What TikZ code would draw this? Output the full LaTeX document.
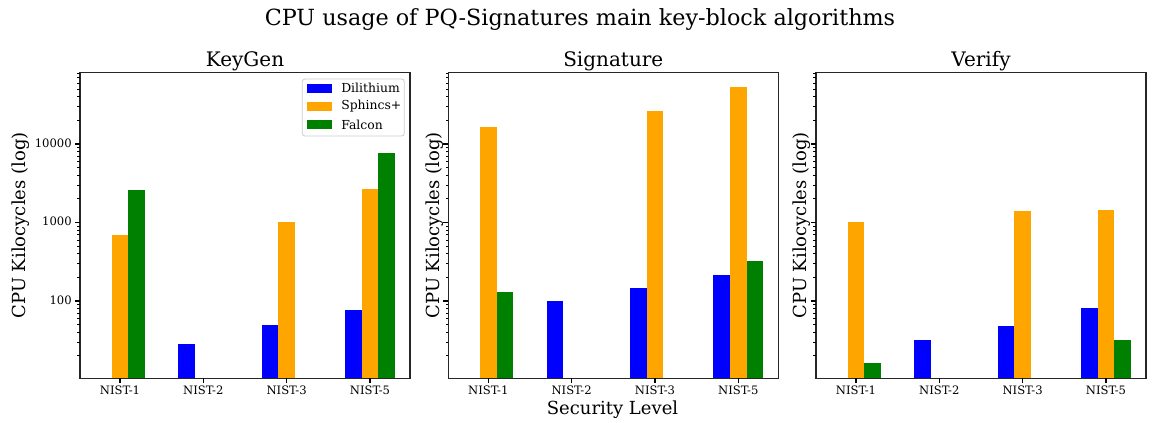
\documentclass[tikz,border=0pt]{standalone}
\usepackage{fontspec}
\setmainfont{DejaVu Serif}
\usepackage{tikz}
\usetikzlibrary{positioning}

\definecolor{mplblue}{RGB}{0,0,255}
\definecolor{mplorange}{RGB}{255,165,0}
\definecolor{mplgreen}{RGB}{0,128,0}

% barras de una serie: #1 borde izq. del panel, #2 desplazamiento, #3 estilo, #4 lista categoria/valor
\newcommand{\barset}[4]{%
  \foreach \c/\v in {#4}
    \fill[#3] ({#1+40+83.33*\c+#2-8.33}, 43.7) rectangle ({#1+40+83.33*\c+#2+8.33}, {\fpeval{121+78.5*(ln(\v)/ln(10)-2)}});
}

\begin{document}
\begin{tikzpicture}[x=0.75pt, y=0.75pt,
    frame/.style={draw=black!85, line width=0.8pt},
    majtick/.style={line width=0.8pt},
    mintick/.style={line width=0.6pt},
    ticklbl/.style={font=\fontsize{8.7}{10}\selectfont, inner sep=0pt},
    leglbl/.style={font=\fontsize{9.3}{11}\selectfont, inner sep=0pt},
    axlbl/.style={font=\fontsize{13.5}{16}\selectfont, inner sep=0pt},
    paneltitle/.style={font=\fontsize{15}{18}\selectfont, inner sep=0pt},
    dili/.style={fill=mplblue},
    sph/.style={fill=mplorange},
    fal/.style={fill=mplgreen}
]
\useasboundingbox (0,0) rectangle (1157,422);

% Titulo general
\node (title) [font=\fontsize{16.7}{20}\selectfont, inner sep=0pt, anchor=base] at (580,396) {CPU usage of PQ-Signatures main key-block algorithms};

% Paneles
\foreach \L/\name/\lbl/\ylx in {80/keygen/KeyGen/20.5, 448.3/sign/Signature/435, 816/verify/Verify/802} {
  \draw[frame] (\L,43.7) rectangle ++(330,305.6);
  \node[paneltitle, anchor=base] (\name-title) at (\L+165,355.3) {\lbl};
  \node[axlbl, rotate=90] (\name-ylabel) at (\ylx,196.5) {CPU Kilocycles (log)};
  \foreach \i/\cat in {0/NIST-1,1/NIST-2,2/NIST-3,3/NIST-5} {
    \draw[majtick] (\L+40+83.33*\i,43.7) -- ++(0,-4.9);
    \node[ticklbl, anchor=base] (\name-x\i) at (\L+40+83.33*\i,27.5) {\cat};
  }
  \foreach \k in {0,1,2}
    \draw[majtick] (\L,121+78.5*\k) -- ++(-4.9,0);
  \foreach \e/\mmax in {1/9,2/9,3/9,4/8}
    \foreach \m in {2,...,\mmax}
      \draw[mintick] (\L,{121+78.5*(\e-2+log10(\m))}) -- ++(-2.8,0);
}

% Etiquetas del eje y (solo KeyGen)
\foreach \k/\t in {0/100,1/1000,2/10000}
  \node[ticklbl, anchor=mid east] (ytick-\k) at (72,121+78.5*\k) {\t};

\node[axlbl, anchor=base] (xlabel) at (612.5,7.7) {Security Level};

% DATOS (kilociclos)
\barset{80}{-16.67}{dili}{1/28,2/49,3/77}
\barset{80}{0}{sph}{0/690,2/1010,3/2670}
\barset{80}{16.67}{fal}{0/2590,3/7680}

\barset{448.3}{-16.67}{dili}{1/100,2/146,3/214}
\barset{448.3}{0}{sph}{0/16500,2/26300,3/53200}
\barset{448.3}{16.67}{fal}{0/130,3/324}

\barset{816}{-16.67}{dili}{1/32,2/48,3/81}
\barset{816}{0}{sph}{0/1010,2/1400,3/1440}
\barset{816}{16.67}{fal}{0/16,3/32}

% Leyenda
\draw[draw=black!20, fill=white, rounded corners=2pt, line width=0.6pt] (302.3,286) rectangle (404.3,343);
\foreach \y/\s/\t/\n in {333.7/dili/Dilithium/dili, 315.5/sph/Sphincs+/sph, 297.5/fal/Falcon/fal} {
  \fill[\s] (306.7,\y-4.3) rectangle (332,\y+4.3);
  \node[leglbl, anchor=west] (leg-\n) at (341,\y) {\t};
}
\end{tikzpicture}
\end{document}
